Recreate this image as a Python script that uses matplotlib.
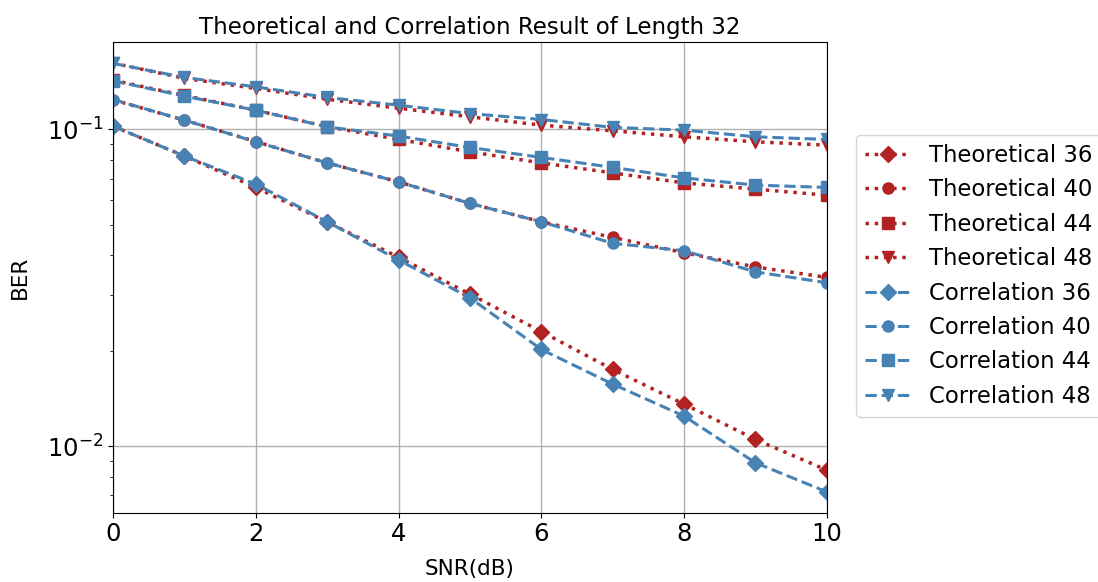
import matplotlib

matplotlib.use("Agg")
import matplotlib.pyplot as plt

snr_db = [0, 1, 2, 3, 4, 5, 6, 7, 8, 9, 10]
lengths = [36, 40, 44, 48]
markers = ["D", "o", "s", "v"]

theory_36 = [0.1024, 0.0824, 0.0656, 0.0510, 0.0395, 0.0302, 0.0230, 0.01746, 0.01357, 0.0105, 0.0084]
theory_40 = [0.1240, 0.1070, 0.0915, 0.0784, 0.0683, 0.0584, 0.0511, 0.0456, 0.0408, 0.0368, 0.0341]
theory_44 = [0.1430, 0.1280, 0.1150, 0.1020, 0.0930, 0.0850, 0.0784, 0.0729, 0.0678, 0.0648, 0.0620]
theory_48 = [0.1620, 0.1450, 0.1347, 0.1246, 0.1167, 0.1096, 0.1032, 0.0990, 0.0948, 0.0914, 0.0892]

corr_36 = [0.1024, 0.0824, 0.0672, 0.0511, 0.0387, 0.0294, 0.0202, 0.01570, 0.01244, 0.00886, 0.00717]
corr_40 = [0.1243, 0.1070, 0.0914, 0.0784, 0.0683, 0.0584, 0.0511, 0.0437, 0.0414, 0.0355, 0.0328]
corr_44 = [0.1424, 0.1274, 0.1150, 0.1019, 0.0953, 0.0877, 0.0816, 0.0759, 0.0703, 0.0667, 0.0656]
corr_48 = [0.1616, 0.1460, 0.1363, 0.1262, 0.1193, 0.1122, 0.1075, 0.1015, 0.0995, 0.0948, 0.0930]

theory = [theory_36, theory_40, theory_44, theory_48]
corr = [corr_36, corr_40, corr_44, corr_48]

fig = plt.figure(figsize=(10.98, 5.82), dpi=100)
ax = fig.add_axes([0.103, 0.119, 0.650, 0.809])

for n, m, vals in zip(lengths, markers, theory):
    ax.plot(snr_db, vals, linestyle=":", color="firebrick", marker=m,
            markersize=8, linewidth=2.5, label=f"Theoretical {n}")
for n, m, vals in zip(lengths, markers, corr):
    ax.plot(snr_db, vals, linestyle="--", color="steelblue", marker=m,
            markersize=8, linewidth=2.2, label=f"Correlation {n}")

ax.set_yscale("log")
ax.set_xlim(0, 10)
ax.set_ylim(0.00616, 0.189)
ax.grid(True, which="major", color="#b0b0b0", linewidth=1)
ax.tick_params(axis="both", which="major", labelsize=17.5)
ax.set_xlabel("SNR(dB)", fontsize=15.5, labelpad=9)
ax.set_ylabel("BER", fontsize=15.5, labelpad=12)
ax.set_title("Theoretical and Correlation Result of Length 32", fontsize=16.5)
ax.legend(loc="center left", bbox_to_anchor=(1.041, 0.503), fontsize=16.4,
          borderaxespad=0)

fig.savefig("out.png", dpi=100)
